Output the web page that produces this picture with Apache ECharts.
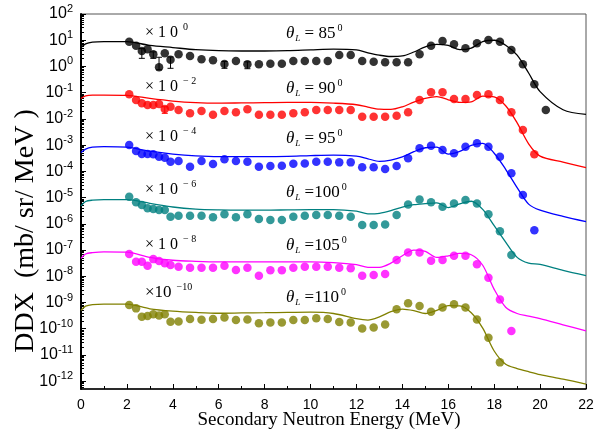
<!DOCTYPE html>
<html><head><meta charset="utf-8">
<script src="https://cdn.jsdelivr.net/npm/echarts@6/dist/echarts.min.js"></script>
<style>html,body{margin:0;padding:0;background:#fff}#c{width:598px;height:445px}</style>
</head><body><div id="c"></div>
<script>
// ---------- data ----------
const expE = [2.1, 2.4, 2.65, 2.9, 3.15, 3.4, 3.65, 3.9, 4.25, 4.75, 5.25, 5.75, 6.25, 6.75, 7.25, 7.75, 8.25, 8.75, 9.25, 9.75, 10.25, 10.75, 11.25, 11.75, 12.25, 12.75, 13.25, 13.75, 14.25, 14.75, 15.25, 15.75, 16.25, 16.75, 17.25, 17.75, 18.25, 18.75, 19.25, 19.75, 20.25];
const calcE = [0, 0.2, 0.5, 1, 2, 3, 4, 5, 6, 7, 8, 9, 10, 11, 12, 12.5, 13, 13.5, 14, 14.5, 15, 15.5, 16, 16.5, 17, 17.5, 18, 18.5, 19, 19.5, 20, 21, 22];

const exp85 = [8.8, 6.2, 3.9, 4.5, 2.9, 0.93, 3.2, 1.8, 2.9, 2.5, 1.87, 1.71, 1.24, 1.61, 1.21, 1.21, 1.27, 1.27, 1.61, 1.61, 1.61, 1.61, 2.73, 2.73, 1.61, 1.52, 1.44, 1.44, 1.44, 2.9, 6.2, 9.3, 7.0, 4.9, 7.6, 10.2, 8.8, 4.2, 1.21, 0.21, 0.022];
const exp90 = [0.0865, 0.0525, 0.0393, 0.0339, 0.0339, 0.037, 0.024, 0.029, 0.0219, 0.0163, 0.020, 0.0145, 0.020, 0.0178, 0.0232, 0.0145, 0.0145, 0.0145, 0.0163, 0.0178, 0.0219, 0.0219, 0.0219, 0.0219, 0.0121, 0.0121, 0.0121, 0.0131, 0.0178, 0.0525, 0.103, 0.103, 0.0575, 0.0575, 0.0815, 0.0865, 0.0525, 0.0178, 0.00377, 0.000447];
const exp95 = [1.01e-3, 5.96e-4, 4.57e-4, 4.57e-4, 4.5e-4, 3.63e-4, 3.3e-4, 2.33e-4, 2.47e-4, 1.5e-4, 2.47e-4, 1.9e-4, 2.88e-4, 2.47e-4, 2.33e-4, 1.5e-4, 1.6e-4, 1.63e-4, 1.95e-4, 2.0e-4, 2.33e-4, 2.33e-4, 2.2e-4, 2.2e-4, 1.42e-4, 1.42e-4, 1.23e-4, 1.6e-4, 3.14e-4, 7.55e-4, 9.5e-4, 6.5e-4, 4.86e-4, 8.7e-4, 1.17e-3, 8.7e-4, 3.63e-4, 8.4e-5, 1.26e-5, 5.7e-7];
const exp100 = [1.07e-5, 6.6e-6, 5.2e-6, 3.9e-6, 3.66e-6, 3.35e-6, 3.35e-6, 1.86e-6, 2.04e-6, 2.04e-6, 2.04e-6, 1.76e-6, 2.3e-6, 1.76e-6, 2.3e-6, 1.51e-6, 1.39e-6, 1.39e-6, 1.86e-6, 2.04e-6, 2.16e-6, 2.16e-6, 2.04e-6, 1.86e-6, 8.97e-7, 8.97e-7, 9.5e-7, 2.16e-6, 5.5e-6, 8.5e-6, 6.6e-6, 4.47e-6, 6.0e-6, 8.05e-6, 6.0e-6, 2.3e-6, 5.2e-7, 6.4e-8];
const exp105 = [7.0e-8, 3.57e-8, 3.57e-8, 2.5e-8, 4.5e-8, 3.8e-8, 3.1e-8, 2.67e-8, 2.3e-8, 2.1e-8, 2.1e-8, 2.1e-8, 2.5e-8, 1.73e-8, 2.1e-8, 1.05e-8, 1.68e-8, 1.68e-8, 2.1e-8, 2.3e-8, 2.3e-8, 2.3e-8, 2.1e-8, 2.0e-8, 1.05e-8, 1.11e-8, 1.21e-8, 4.15e-8, 8.1e-8, 8.1e-8, 3.9e-8, 4.15e-8, 6.05e-8, 6.0e-8, 2.84e-8, 8.8e-9, 1.3e-9, 8.1e-11];
const exp110 = [7.98e-10, 5.96e-10, 2.85e-10, 3.03e-10, 3.52e-10, 3.16e-10, 3.52e-10, 1.84e-10, 1.9e-10, 2.33e-10, 2.19e-10, 2.33e-10, 2.7e-10, 2.14e-10, 2.26e-10, 1.6e-10, 1.74e-10, 1.74e-10, 2.14e-10, 2.14e-10, 2.48e-10, 2.33e-10, 1.79e-10, 1.74e-10, 1.02e-10, 1.12e-10, 1.46e-10, 5.47e-10, 9.25e-10, 7.3e-10, 4.43e-10, 6.5e-10, 8.5e-10, 6.5e-10, 2.26e-10, 4.5e-11, 5.2e-12];

const calc85 = [5.25, 7.24, 8.51, 8.91, 8.91, 6.31, 5.25, 4.37, 3.98, 3.89, 3.89, 3.98, 4.27, 4.57, 4.27, 3.31, 2.69, 2.40, 2.51, 3.55, 5.62, 6.92, 6.31, 4.37, 5.01, 8.91, 10.0, 6.46, 2.69, 0.562, 0.110, 0.0224, 0.0148];
const calc90 = [0.0603, 0.0759, 0.0813, 0.0813, 0.0794, 0.0603, 0.0479, 0.0417, 0.0398, 0.0407, 0.0417, 0.0427, 0.0427, 0.0398, 0.0347, 0.0282, 0.0234, 0.0229, 0.0288, 0.0437, 0.0603, 0.0708, 0.0537, 0.0427, 0.0447, 0.0741, 0.0692, 0.0316, 0.00708, 0.00112, 3.80e-4, 2.24e-4, 1.38e-4];
const calc95 = [5.25e-4, 7.08e-4, 8.32e-4, 8.71e-4, 8.32e-4, 5.89e-4, 4.57e-4, 3.89e-4, 3.63e-4, 3.63e-4, 3.63e-4, 3.72e-4, 3.98e-4, 4.17e-4, 3.80e-4, 3.02e-4, 2.40e-4, 2.69e-4, 3.55e-4, 5.62e-4, 7.94e-4, 8.32e-4, 4.57e-4, 5.75e-4, 9.77e-4, 1.17e-3, 4.90e-4, 1.20e-4, 2.40e-5, 5.62e-6, 3.31e-6, 1.91e-6, 1.20e-6];
const calc100 = [4.79e-6, 7.08e-6, 7.94e-6, 8.32e-6, 8.32e-6, 6.03e-6, 4.37e-6, 3.63e-6, 3.39e-6, 3.31e-6, 3.31e-6, 3.39e-6, 3.47e-6, 3.47e-6, 3.02e-6, 2.40e-6, 2.51e-6, 3.16e-6, 4.37e-6, 5.37e-6, 5.89e-6, 6.31e-6, 4.17e-6, 5.75e-6, 7.24e-6, 3.55e-6, 8.5e-7, 2.0e-7, 5.25e-8, 3.16e-8, 2.82e-8, 1.66e-8, 1.05e-8];
const calc105 = [4.79e-8, 7.08e-8, 7.94e-8, 8.51e-8, 8.32e-8, 5.25e-8, 4.07e-8, 3.72e-8, 3.55e-8, 3.55e-8, 3.55e-8, 3.55e-8, 3.55e-8, 3.31e-8, 2.75e-8, 2.19e-8, 2.19e-8, 3.16e-8, 6.03e-8, 1.0e-7, 8.91e-8, 5.25e-8, 6.03e-8, 7.41e-8, 6.61e-8, 2.63e-8, 3.16e-9, 6.61e-10, 3.80e-10, 3.02e-10, 2.40e-10, 1.41e-10, 8.32e-11];
const calc110 = [5.01e-10, 7.24e-10, 8.32e-10, 8.71e-10, 8.71e-10, 5.75e-10, 4.68e-10, 4.17e-10, 3.89e-10, 3.98e-10, 4.07e-10, 4.17e-10, 4.27e-10, 3.80e-10, 2.40e-10, 2.14e-10, 2.82e-10, 4.47e-10, 5.62e-10, 4.90e-10, 3.80e-10, 5.01e-10, 7.59e-10, 7.41e-10, 4.07e-10, 1.05e-10, 1.41e-11, 4.37e-12, 3.02e-12, 2.29e-12, 1.78e-12, 1.20e-12, 7.76e-13];

// error bars: [energy, low, high]
const err85 = [[2.65, 2.04, 4.8], [3.15, 2.04, 3.6], [3.4, 0.75, 2.24], [3.9, 0.85, 2.3], [6.25, 0.85, 1.55], [7.25, 0.82, 1.5]];
const err90 = [[3.65, 0.0163, 0.029]];

const angleLabels = ['85', '90', '95', '100', '105', '110'];
const scaleExps = ['0', '\u2212 2', '\u2212 4', '\u2212 6', '\u2212 8', '\u221210'];
const yTickExps = [-12, -11, -10, -9, -8, -7, -6, -5, -4, -3, -2, -1, 0, 1, 2];
const xTickLabels = ['0', '2', '4', '6', '8', '10', '12', '14', '16', '18', '20', '22'];

// ---------- styling ----------
const colors = ['#000000', '#ff0000', '#0000ff', '#008080', '#ff00ff', '#808000'];
const expSets = [exp85, exp90, exp95, exp100, exp105, exp110];
const calcSets = [calc85, calc90, calc95, calc100, calc105, calc110];
const errSets = [err85, err90, [], [], [], []];
const multY = [33, 87, 137, 190, 245, 293];
const thetaY = [34, 89, 139, 193, 246, 298];

const majorTicks = yTickExps.map(e => Math.pow(10, e));
const minorTicks = [];
for (let e = -13; e <= 1; e++) {
  for (let m = 2; m <= 9; m++) {
    const v = m * Math.pow(10, e);
    if (v > 5.02e-13 && v < 100) minorTicks.push(v);
  }
}

const SERIF = '"Liberation Serif", "Times New Roman", serif';
const SANS = '"Liberation Sans", Arial, sans-serif';

const series = [];
for (let k = 0; k < 6; k++) {
  series.push({
    type: 'line', xAxisIndex: 0, yAxisIndex: 0,
    data: calcE.map((e, i) => [e, calcSets[k][i]]),
    showSymbol: false, smooth: 0.3,
    lineStyle: { color: colors[k], width: 1.3 },
    z: 2, silent: true
  });
  if (errSets[k].length) {
    const col = colors[k];
    series.push({
      type: 'custom', xAxisIndex: 0, yAxisIndex: 0, z: 3,
      data: errSets[k],
      renderItem: function (params, api) {
        const p1 = api.coord([api.value(0), api.value(1)]);
        const p2 = api.coord([api.value(0), api.value(2)]);
        const w = 3;
        const st = { stroke: col, lineWidth: 1 };
        return { type: 'group', children: [
          { type: 'line', shape: { x1: p1[0], y1: p1[1], x2: p2[0], y2: p2[1] }, style: st },
          { type: 'line', shape: { x1: p1[0] - w, y1: p1[1], x2: p1[0] + w, y2: p1[1] }, style: st },
          { type: 'line', shape: { x1: p2[0] - w, y1: p2[1], x2: p2[0] + w, y2: p2[1] }, style: st }
        ]};
      }
    });
  }
  series.push({
    type: 'scatter', xAxisIndex: 0, yAxisIndex: 0,
    data: expSets[k].map((v, i) => [expE[i], v]),
    symbol: 'circle', symbolSize: 8.5,
    itemStyle: { color: colors[k] },
    z: 4, silent: true
  });
}

const graphics = [
  { type: 'text', x: 26, y: 231, rotation: Math.PI / 2,
    style: { text: 'DDX  (mb/ sr/ MeV )', font: '28px ' + SERIF, fill: '#000', align: 'center', verticalAlign: 'middle' } },
  { type: 'text', x: 329, y: 420,
    style: { text: 'Secondary Neutron Energy (MeV)', font: '19px ' + SERIF, fill: '#000', align: 'center', verticalAlign: 'middle' } }
];
for (let k = 0; k < 6; k++) {
  const tight = k === 5;
  graphics.push({
    type: 'text', x: 145, y: multY[k],
    style: {
      text: '{m|' + (tight ? '\u00d710' : '\u00d7 1 0') + '}{e|' + scaleExps[k] + '}',
      align: 'left', verticalAlign: 'middle', fill: '#000',
      rich: {
        m: { fontSize: tight ? 17 : 16, fontFamily: SERIF, fill: '#000' },
        e: { fontSize: 10, fontFamily: SERIF, fill: '#000', padding: [0, 0, 11, 5] }
      }
    }
  });
  const wide = k < 3;
  graphics.push({
    type: 'text', x: 286, y: thetaY[k],
    style: {
      text: '{t|\u03b8}{l|L}{m|' + (wide ? ' = ' + angleLabels[k] : ' =' + angleLabels[k]) + '}{e|0}',
      align: 'left', verticalAlign: 'middle', fill: '#000',
      rich: {
        t: { fontSize: 17, fontFamily: SERIF, fontStyle: 'italic', fill: '#000' },
        l: { fontSize: 9, fontFamily: SERIF, fontStyle: 'italic', fill: '#000', padding: [9, 0, 0, 1] },
        m: { fontSize: 17, fontFamily: SERIF, fill: '#000' },
        e: { fontSize: 10, fontFamily: SERIF, fill: '#000', padding: [0, 0, 11, 2] }
      }
    }
  });
}

const chart = echarts.init(document.getElementById('c'), null, { renderer: 'canvas' });
chart.setOption({
  animation: false,
  backgroundColor: '#fff',
  grid: { left: 81, right: 12, top: 14, bottom: 56, show: true, borderColor: '#555', borderWidth: 1, backgroundColor: 'transparent' },
  xAxis: {
    type: 'value', min: 0, max: 22, interval: 2,
    axisLine: { show: true, onZero: false, lineStyle: { color: '#000', width: 1.5 } },
    axisTick: { show: true, inside: true, length: 5, lineStyle: { color: '#000', width: 1 } },
    minorTick: { show: true, splitNumber: 2, length: 3, lineStyle: { color: '#000', width: 1 } },
    splitLine: { show: false },
    axisLabel: { color: '#000', fontSize: 14, fontFamily: SANS, margin: 9,
      formatter: function (v) { return xTickLabels[Math.round(v / 2)]; } }
  },
  yAxis: [
    {
      type: 'log', logBase: 10, min: 5.02e-13, max: 100,
      axisLine: { show: true, lineStyle: { color: '#000', width: 2 } },
      axisTick: { show: true, inside: true, length: 5, customValues: majorTicks, lineStyle: { color: '#000', width: 1 } },
      splitLine: { show: false },
      axisLabel: {
        customValues: majorTicks, margin: 8,
        formatter: function (v) { return '{b|10}{s|' + Math.round(Math.log10(v)) + '}'; },
        rich: {
          b: { fontSize: 16, fontFamily: SANS, color: '#000' },
          s: { fontSize: 11, fontFamily: SANS, color: '#000', padding: [0, 0, 10, 0] }
        }
      }
    },
    {
      type: 'log', logBase: 10, min: 5.02e-13, max: 100, position: 'left',
      axisLine: { show: false },
      axisTick: { show: true, inside: true, length: 3, customValues: minorTicks, lineStyle: { color: '#000', width: 1 } },
      axisLabel: { show: false },
      splitLine: { show: false }
    }
  ],
  graphic: graphics,
  series: series
});
</script>
</body></html>
